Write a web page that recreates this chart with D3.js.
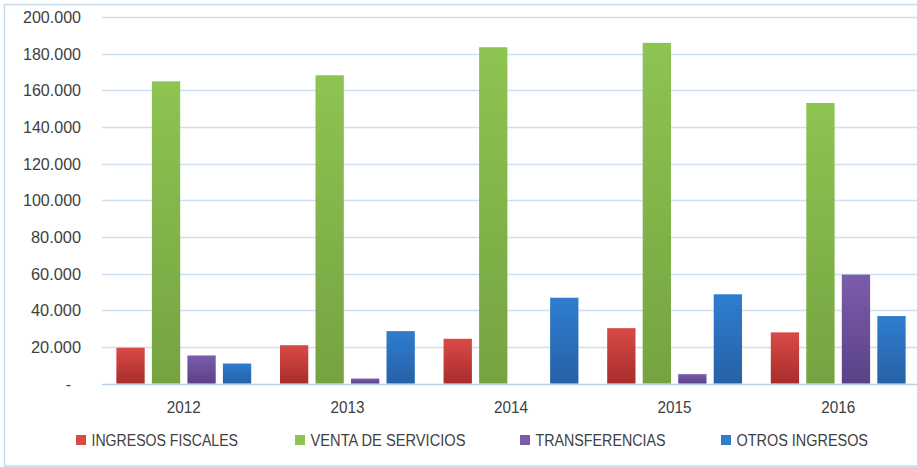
<!DOCTYPE html>
<html><head><meta charset="utf-8">
<script src="https://cdn.jsdelivr.net/npm/d3@7"></script>
<style>body{margin:0;background:#fff}svg{display:block}</style>
</head><body>
<script>
const years = ["2012","2013","2014","2015","2016"];
const seriesNames = ["INGRESOS FISCALES","VENTA DE SERVICIOS","TRANSFERENCIAS","OTROS INGRESOS"];
const ingresosFiscales = [19500, 20900, 24400, 30200, 27900];
const ventaServicios = [164900, 168200, 183500, 185900, 153100];
const transferencias = [15300, 2700, 0, 5100, 59400];
const otrosIngresos = [10900, 28600, 46800, 48700, 36800];
const yTicks = [0,20000,40000,60000,80000,100000,120000,140000,160000,180000,200000];
const colorsTop = ["#d94a45","#8dc452","#7b5cab","#2f7dcf"];
const colorsBottom = ["#a82d2c","#76a341","#5b4287","#2661a6"];

const values = [ingresosFiscales, ventaServicios, transferencias, otrosIngresos];
const W = 917, H = 467;
const svg = d3.select("body").append("svg").attr("width", W).attr("height", H);

const defs = svg.append("defs");
seriesNames.forEach((s,i)=>{
  const g = defs.append("linearGradient").attr("id","g"+i).attr("x1",0).attr("y1",0).attr("x2",0).attr("y2",1);
  g.append("stop").attr("offset","0%").attr("stop-color",colorsTop[i]);
  g.append("stop").attr("offset","100%").attr("stop-color",colorsBottom[i]);
});

svg.append("rect").attr("x",4.5).attr("y",4.5).attr("width",930).attr("height",461.5)
  .attr("fill","#fff").attr("stroke","#c4d9ee").attr("stroke-width",1.5);

const x0 = d3.scaleBand().domain(years).range([102, 920]).paddingInner(0).paddingOuter(0);
const x1 = d3.scaleBand().domain(seriesNames).range([0, x0.bandwidth()]).paddingInner(0.203).paddingOuter(0.405);
const y = d3.scaleLinear().domain([0, 200000]).range([383.5, 17]);

const fmt = v => v === 0 ? "-" : d3.format(",")(v).replace(/,/g, ".");

// gridlines
svg.append("g").selectAll("line").data(yTicks).join("line")
  .attr("x1", 102).attr("x2", W).attr("y1", d=>Math.round(y(d))+0.5).attr("y2", d=>Math.round(y(d))+0.5)
  .attr("stroke", d=> d===0 ? "#b8cfe8" : "#cddff2").attr("stroke-width", 1.5);

// y axis labels
const yAxis = d3.axisLeft(y).tickValues(yTicks).tickFormat(fmt).tickSize(0).tickPadding(0);
const yg = svg.append("g").attr("transform","translate(81,0)").call(yAxis);
yg.select(".domain").remove();
yg.selectAll("text").attr("font-family","Liberation Sans, Arial, sans-serif").attr("font-size",16).attr("fill","#404040")
  .attr("dy","0.35em")
  .attr("transform", d => d===0 ? "translate(-10,0)" : null)
  .attr("textLength", d => d===0 ? null : (d>=100000 ? 58 : 50)).attr("lengthAdjust","spacingAndGlyphs");

// bars
const groups = svg.append("g").selectAll("g").data(years).join("g")
  .attr("transform", d => `translate(${x0(d)},0)`);
groups.selectAll("rect").data((yr, yi) => seriesNames.map((s, si) => ({s, si, v: values[si][yi]})))
  .join("rect")
  .attr("x", d => x1(d.s)).attr("width", x1.bandwidth())
  .attr("y", d => y(d.v)).attr("height", d => y(0) - y(d.v))
  .attr("fill", d => `url(#g${d.si})`);

// x axis labels
const xAxis = d3.axisBottom(x0).tickSize(0).tickPadding(0);
const xg = svg.append("g").attr("transform","translate(0,407)").call(xAxis);
xg.select(".domain").remove();
xg.selectAll("text").attr("font-family","Liberation Sans, Arial, sans-serif").attr("font-size",16).attr("fill","#404040")
  .attr("dy","0.35em").attr("textLength",34).attr("lengthAdjust","spacingAndGlyphs");

// legend
const legendX = [76, 295, 520, 721];
const legendW = [146.5, 155, 130, 131.5];
const lg = svg.append("g").selectAll("g").data(seriesNames).join("g")
  .attr("transform", (d,i) => `translate(${legendX[i]},435)`);
lg.append("rect").attr("width",10).attr("height",10).attr("fill",(d,i)=>colorsTop[i]);
lg.append("text").attr("x",15.5).attr("y",5).attr("dy","0.35em").text(d=>d)
  .attr("font-family","Liberation Sans, Arial, sans-serif").attr("font-size",16).attr("fill","#404040")
  .attr("textLength",(d,i)=>legendW[i]).attr("lengthAdjust","spacingAndGlyphs");
</script>
</body></html>
